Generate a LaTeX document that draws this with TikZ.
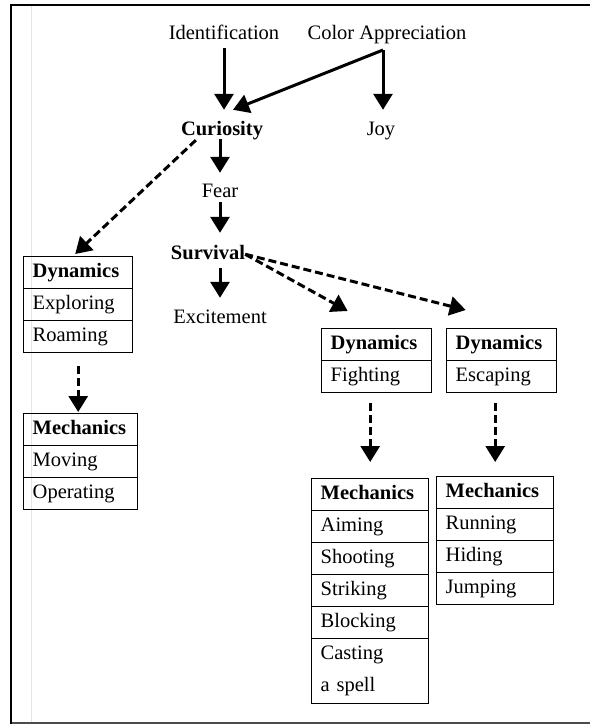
\documentclass[tikz,border=0pt]{standalone}
\usepackage{fontspec}
\setmainfont{Liberation Serif}
\usetikzlibrary{arrows.meta,matrix,calc}

\begin{document}
\begin{tikzpicture}[x=1pt,y=-1pt,
  font=\fontsize{20.5}{32}\selectfont,
  lbl/.style={inner sep=0pt,text height=13.5pt,text depth=4pt,anchor=base},
  hd/.style={font=\fontsize{20.5}{32}\selectfont\bfseries},
  arr/.style={line width=3pt,-{Triangle[length=16pt,width=19pt]},
    shorten >=11.5pt,shorten <=5pt},
  darr/.style={arr,dash pattern=on 8pt off 4pt,shorten >=0pt,shorten <=0pt},
  tblbox/.style={matrix of nodes,anchor=north west,inner sep=0pt,
    row sep=-1pt,
    nodes={draw,line width=1pt,minimum height=32pt,inner xsep=9pt,
      text height=13.5pt,text depth=4pt,align=left,anchor=center}}]
\useasboundingbox (0,0) rectangle (590,724);

% page frame
\draw[black!10,line width=1pt] (31,6) -- (31,722);
\draw[black!70,line width=1.2pt] (11,723) -- (590,723);
\draw[line width=2.5pt] (11,724) -- (11,5) -- (590,5);

% emotions
\node[lbl] (ident) at (224,39) {Identification};
\node[lbl] (colap) at (387,39) {Color Appreciation};
\node[lbl,hd] (curio) at (222,135) {Curiosity};
\node[lbl] (joy) at (381,135) {Joy};
\node[lbl] (fear) at (220,197) {Fear};
\node[lbl,hd] (surv) at (208,259) {Survival};
\node[lbl] (excit) at (220,323) {Excitement};
\coordinate (cab) at (383,50);

% dynamics and mechanics
\matrix (dynA) [tblbox,nodes={text width=91pt}] at (23,256) {
  |[hd]| Dynamics \\
  Exploring \\
  Roaming \\
};
\matrix (mecA) [tblbox,nodes={text width=96pt}] at (23,413) {
  |[hd]| Mechanics \\
  Moving \\
  Operating \\
};
\matrix (dynF) [tblbox,nodes={text width=92pt}] at (321,328) {
  |[hd]| Dynamics \\
  Fighting \\
};
\matrix (dynE) [tblbox,nodes={text width=92pt}] at (446,328) {
  |[hd]| Dynamics \\
  Escaping \\
};
\matrix (mecF) [tblbox,nodes={text width=99pt}] at (311,478) {
  |[hd]| Mechanics \\
  Aiming \\
  Shooting \\
  Striking \\
  Blocking \\
  |[text height={},text depth={},minimum height=65pt]| {Casting\\a spell} \\
};
\matrix (mecE) [tblbox,nodes={text width=99pt}] at (436,476) {
  |[hd]| Mechanics \\
  Running \\
  Hiding \\
  Jumping \\
};

% solid arrows
\draw[arr] (ident.south) -- (ident.south |- curio.north);
\draw[arr,shorten <=0pt] (cab) -- (cab |- joy.north);
\draw[arr,shorten <=0pt,shorten >=0pt] (cab) -- ($(curio.north)+(11,-11.5)$);
\draw[arr,shorten <=0pt,shorten >=10.5pt] (fear.north |- curio.south) -- (fear.north);
\draw[arr,shorten <=1pt,shorten >=12.5pt] (fear.south) -- (fear.south |- surv.north);
\draw[arr] (excit.north |- surv.south) -- (excit.north);

% dashed arrows
\draw[darr] ($(curio.south west)+(15,1)$) -- ($(dynA.north)+(-3,-2)$);
\draw[darr] (surv.east) -- ($(dynF.north)+(-29,-17)$);
\draw[darr] (surv.east) -- ($(dynE.north)+(-36,-18)$);
\draw[darr,shorten <=13pt,shorten >=1pt] (dynA.south) -- (dynA.south |- mecA.north);
\draw[darr,shorten <=10pt,shorten >=16pt] (mecF.north |- dynF.south) -- (mecF.north);
\draw[darr,shorten <=10pt,shorten >=14pt] (mecE.north |- dynE.south) -- (mecE.north);
\end{tikzpicture}
\end{document}
